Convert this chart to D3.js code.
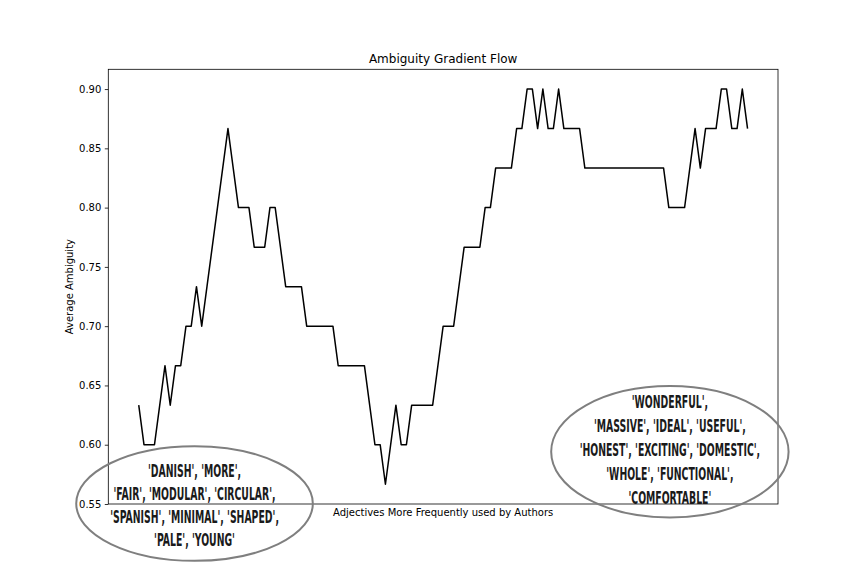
<!DOCTYPE html>
<html><head><meta charset="utf-8">
<script src="https://cdn.jsdelivr.net/npm/d3@7"></script>
<style>body{margin:0;background:#fff}</style>
</head><body>
<svg id="c" width="864" height="576"></svg>
<script>
// Data (steps of 1/30)
const ambiguity = [
  19,18,18,18,19,20,19,20,20,21,21,22,21,22,23,24,25,26,25,24,
  24,24,23,23,23,24,24,23,22,22,22,22,21,21,21,21,21,21,20,20,
  20,20,20,20,19,18,18,17,18,19,18,18,19,19,19,19,19,20,21,21,
  21,22,23,23,23,23,24,24,25,25,25,25,26,26,27,27,26,27,26,26,
  27,26,26,26,26,25,25,25,25,25,25,25,25,25,25,25,25,25,25,25,
  25,24,24,24,24,25,26,25,26,26,26,27,27,26,26,27,26
].map(v => v / 30);
const yTicks = [0.55, 0.60, 0.65, 0.70, 0.75, 0.80, 0.85, 0.90];
const leftWords = ["'DANISH', 'MORE',", "'FAIR', 'MODULAR', 'CIRCULAR',", "'SPANISH', 'MINIMAL', 'SHAPED',", "'PALE', 'YOUNG'"];
const rightWords = ["'WONDERFUL',", "'MASSIVE', 'IDEAL', 'USEFUL',", "'HONEST', 'EXCITING', 'DOMESTIC',", "'WHOLE', 'FUNCTIONAL',", "'COMFORTABLE'"];
const titleText = "Ambiguity Gradient Flow";
const xLabelText = "Adjectives More Frequently used by Authors";
const yLabelText = "Average Ambiguity";

const svg = d3.select("#c");
const L = 108.3, R = 778, T = 69.3, B = 504;
const n = ambiguity.length;
const pad = (n - 1) * 0.05;
const x = d3.scaleLinear().domain([-pad, n - 1 + pad]).range([L, R]);
const ymin = d3.min(ambiguity), ymax = d3.max(ambiguity), yp = (ymax - ymin) * 0.05;
const y = d3.scaleLinear().domain([ymin - yp, ymax + yp]).range([B, T]);
const font = "DejaVu Sans, sans-serif";

// line
svg.append("path").datum(ambiguity)
  .attr("fill", "none").attr("stroke", "#000").attr("stroke-width", 1.5)
  .attr("stroke-linejoin", "round")
  .attr("d", d3.line().x((d, i) => x(i)).y(d => y(d)));

// y axis
const ya = svg.append("g").attr("transform", `translate(${L},0)`)
  .call(d3.axisLeft(y).tickValues(yTicks).tickFormat(d3.format(".2f")).tickSize(3.5).tickPadding(3.5));
ya.select(".domain").remove();
ya.selectAll("text").attr("font-family", font).attr("font-size", 10).attr("fill", "#000");
ya.selectAll("line").attr("stroke", "#000").attr("stroke-width", 0.8);

// frame
svg.append("rect").attr("x", L).attr("y", T).attr("width", R - L).attr("height", B - T)
  .attr("fill", "none").attr("stroke", "#000").attr("stroke-width", 0.8);

// labels
svg.append("text").attr("x", (L + R) / 2).attr("y", 62.5).attr("text-anchor", "middle")
  .attr("font-family", font).attr("font-size", 12).text(titleText);
svg.append("text").attr("x", (L + R) / 2).attr("y", 515.8).attr("text-anchor", "middle")
  .attr("font-family", font).attr("font-size", 10).text(xLabelText);
svg.append("text").attr("transform", `translate(73.2,${(T + B) / 2}) rotate(-90)`).attr("text-anchor", "middle")
  .attr("font-family", font).attr("font-size", 10).text(yLabelText);

// annotation bubbles
const bubbles = [
  {cx: x(10.63), cy: y(0.5504), rx: 118.3, ry: 57.3, lines: leftWords, first: -26.5, step: 23},
  {cx: x(101.2), cy: y(0.5941), rx: 118.7, ry: 65.7, lines: rightWords, first: -44, step: 24.1}
];
const fsz = 16.8;
bubbles.forEach(b => {
  svg.append("ellipse").attr("cx", b.cx).attr("cy", b.cy).attr("rx", b.rx).attr("ry", b.ry)
    .attr("fill", "none").attr("stroke", "#7f7f7f").attr("stroke-width", 2);
});
// measure to condense the bold text like a narrow display face
const probe = svg.append("text").attr("font-family", "DejaVu Sans Condensed, DejaVu Sans").attr("font-weight", "bold")
  .attr("font-size", fsz).text(rightWords[2]);
const sx = 180.6 / probe.node().getComputedTextLength();
probe.remove();
bubbles.forEach(b => {
  const g = svg.append("g").attr("transform", `translate(${b.cx},${b.cy}) scale(${sx},1)`);
  b.lines.forEach((t, i) => {
    g.append("text").attr("x", 0).attr("y", b.first + i * b.step).attr("text-anchor", "middle")
      .attr("font-family", "DejaVu Sans Condensed, DejaVu Sans").attr("font-weight", "bold")
      .attr("font-size", fsz).attr("fill", "#1a1a1a").text(t);
  });
});
</script>
</body></html>
